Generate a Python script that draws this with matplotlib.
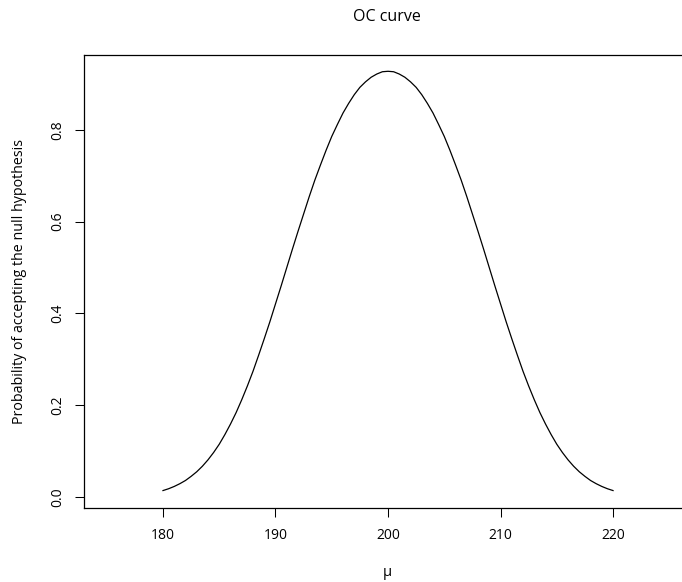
import numpy as np
import matplotlib
matplotlib.use("Agg")
import matplotlib.pyplot as plt

# values (mu from 180 to 220, step 0.5)
mu = np.arange(180, 220.5, 0.5)
p_accept_left = [0.014, 0.018, 0.023, 0.029, 0.036, 0.045, 0.055, 0.067, 0.081,
                 0.097, 0.115, 0.136, 0.159, 0.184, 0.212, 0.242, 0.274, 0.309,
                 0.345, 0.382, 0.421, 0.460, 0.500, 0.540, 0.579, 0.617, 0.655,
                 0.691, 0.724, 0.756, 0.786, 0.812, 0.837, 0.858, 0.877, 0.893,
                 0.905, 0.915, 0.922, 0.927, 0.928]
p_accept = p_accept_left + p_accept_left[-2::-1]  # curve is symmetric about 200

x_ticks = [180, 190, 200, 210, 220]
y_ticks = [0.0, 0.2, 0.4, 0.6, 0.8]
y_tick_labels = ["0.0", "0.2", "0.4", "0.6", "0.8"]

plt.rcParams['font.family'] = ['Open Sans', 'DejaVu Sans']

fig = plt.figure(figsize=(6.82, 5.82), dpi=100)
ax = fig.add_axes([84 / 682, 1 - 508 / 582, (690 - 84) / 682, (508 - 55) / 582])

ax.plot(mu, p_accept, color='black', lw=0.9)

ax.set_xlim(172.98, 226.84)
ax.set_ylim(-0.024, 0.9635)

ax.set_xticks(x_ticks)
ax.set_xticklabels([str(t) for t in x_ticks])
ax.set_yticks(y_ticks)
ax.set_yticklabels(y_tick_labels, rotation=90, va='center')

ax.tick_params(axis='both', direction='out', length=6.5, width=0.75,
               labelsize=10, colors='black')
ax.tick_params(axis='x', pad=8)
ax.tick_params(axis='y', pad=7)

for s in ax.spines.values():
    s.set_linewidth(0.9)
    s.set_color('black')

fig.text(387 / 682, 1 - 17 / 582, "OC curve", ha='center', va='center', fontsize=11.5)
fig.text(387 / 682, 1 - 572 / 582, "\u03bc", ha='center', va='center', fontsize=10.5)
fig.text(20 / 682, 1 - 281 / 582, "Probability of accepting the null hypothesis",
         ha='center', va='center', rotation=90, fontsize=10.3)

fig.savefig("out.png", dpi=100)
